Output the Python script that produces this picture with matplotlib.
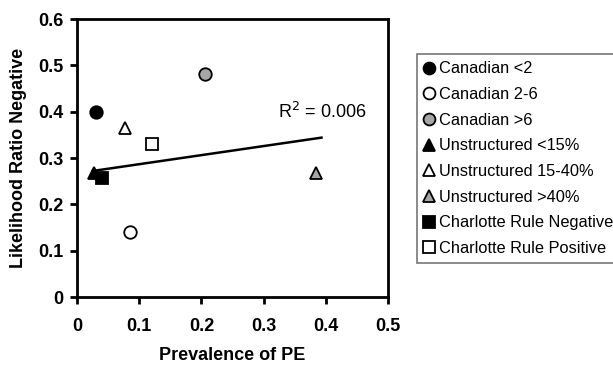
import matplotlib
matplotlib.use("Agg")
import matplotlib.pyplot as plt

plt.rcParams['font.family'] = ['Liberation Sans', 'DejaVu Sans']

# data
labels = ['Canadian <2', 'Canadian 2-6', 'Canadian >6',
          'Unstructured <15%', 'Unstructured 15-40%', 'Unstructured >40%',
          'Charlotte Rule Negative', 'Charlotte Rule Positive']
prevalence = [0.030, 0.086, 0.205, 0.028, 0.077, 0.384, 0.041, 0.121]
lr_negative = [0.400, 0.140, 0.481, 0.268, 0.365, 0.268, 0.257, 0.330]
markers = ['o', 'o', 'o', '^', '^', '^', 's', 's']
faces = ['black', 'white', '#a6a6a6', 'black', 'white', '#a6a6a6', 'black', 'white']

# trend line as drawn in the original
trend_x = [0.025, 0.393]
trend_y = [0.272, 0.344]
r2_text = 'R$^2$ = 0.006'

fig = plt.figure(figsize=(6.13, 3.66), dpi=100)
ax = fig.add_axes([0.1256, 0.1885, 0.5074, 0.7595])

handles = []
for x, y, m, fc, lab in zip(prevalence, lr_negative, markers, faces, labels):
    h, = ax.plot(x, y, linestyle='none', marker=m, markersize=9,
                 markerfacecolor=fc, markeredgecolor='black', markeredgewidth=1.3,
                 label=lab, zorder=3)
    handles.append(h)

ax.plot(trend_x, trend_y, color='black', linewidth=1.8, zorder=2)
ax.text(0.323, 0.40, r2_text, fontsize=13, va='center', ha='left')

ax.set_xlim(0, 0.5)
ax.set_ylim(0, 0.6)
ax.set_xticks([0, 0.1, 0.2, 0.3, 0.4, 0.5])
ax.set_xticklabels(['0', '0.1', '0.2', '0.3', '0.4', '0.5'])
ax.set_yticks([0, 0.1, 0.2, 0.3, 0.4, 0.5, 0.6])
ax.set_yticklabels(['0', '0.1', '0.2', '0.3', '0.4', '0.5', '0.6'])
for lbl in ax.get_xticklabels() + ax.get_yticklabels():
    lbl.set_fontweight('bold')
ax.tick_params(axis='both', direction='out', length=5, width=2, labelsize=13)
ax.tick_params(axis='x', pad=10)
ax.tick_params(axis='y', pad=5)
for sp in ax.spines.values():
    sp.set_linewidth(2)

ax.set_xlabel('Prevalence of PE', fontsize=13, fontweight='bold', labelpad=9)
ax.set_ylabel('Likelihood Ratio Negative', fontsize=13, fontweight='bold', labelpad=8)

leg = fig.legend(handles=handles, loc='upper left', bbox_to_anchor=(417 / 613, (366 - 54) / 366),
                 fontsize=11.8, frameon=True, fancybox=False, edgecolor='#555555',
                 handlelength=0.6, handletextpad=0.3, borderpad=0.45, labelspacing=0.65,
                 borderaxespad=0, markerscale=0.95)
leg.get_frame().set_linewidth(1.2)

fig.savefig('out.png', dpi=100)
